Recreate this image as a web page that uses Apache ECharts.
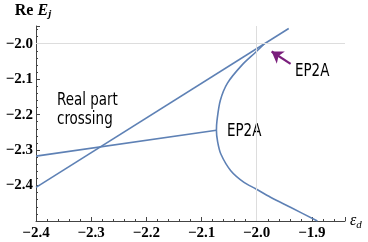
<!DOCTYPE html>
<html><head><meta charset="utf-8">
<script src="https://cdn.jsdelivr.net/npm/echarts@6/dist/echarts.min.js"></script>
<style>html,body{margin:0;padding:0;background:#fff}#c{width:368px;height:242px}</style>
</head><body><div id="c"></div>
<script>
// Data
const crossingLineX = [-2.4, -1.942];
const crossingLineY = [-2.405, -1.957];
const flatLineX = [-2.4, -2.073];
const flatLineY = [-2.317, -2.244];
const curveX = [-1.986, -2.002, -2.026, -2.053, -2.066, -2.072, -2.073, -2.071, -2.065, -2.047, -2.023, -2.002, -1.975, -1.938, -1.890];
const curveY = [-2.000, -2.024, -2.059, -2.111, -2.160, -2.217, -2.244, -2.275, -2.311, -2.358, -2.391, -2.409, -2.433, -2.462, -2.500];
const gridX = [-2.0];
const gridY = [-2.0];
const arrowFrom = [-1.9386, -2.057];
const arrowTo = [-1.973, -2.022];

const pairs = (xs, ys) => xs.map((x, i) => [x, ys[i]]);
const fmt = v => (v < 0 ? '\u2212' : '') + Math.abs(v).toFixed(1);
const blue = '#5E81B5';
const axisColor = '#444';
const tickFont = { color: '#000', fontFamily: "'Liberation Serif', serif", fontWeight: 'bold', fontSize: 15 };
const noteFont = "'Liberation Sans Narrow', 'DejaVu Sans Condensed', Roboto, sans-serif";

const chart = echarts.init(document.getElementById('c'), null, { renderer: 'canvas' });
chart.setOption({
  animation: false,
  backgroundColor: '#fff',
  grid: { left: 36, right: 23, top: 26, bottom: 21, containLabel: false },
  xAxis: {
    type: 'value', min: -2.4, max: -1.84, interval: 0.1,
    name: '{e|\u03b5}{s|d}', nameLocation: 'end', nameGap: 5,
    nameTextStyle: { rich: {
      e: { fontFamily: "'Liberation Serif', serif", fontStyle: 'italic', fontSize: 16, color: '#000' },
      s: { fontFamily: "'Liberation Serif', serif", fontStyle: 'italic', fontSize: 11, color: '#000', padding: [8, 0, 0, 0] }
    } },
    axisLine: { show: true, onZero: false, lineStyle: { color: axisColor, width: 1 } },
    axisTick: { show: true, inside: true, length: 4, lineStyle: { color: axisColor } },
    minorTick: { show: true, splitNumber: 5, length: 2, lineStyle: { color: axisColor } },
    splitLine: { show: false },
    axisLabel: Object.assign({ margin: 5, showMaxLabel: false, formatter: fmt }, tickFont)
  },
  yAxis: {
    type: 'value', min: -2.5, max: -1.95, interval: 0.1,
    name: '{b|Re }{i|E}{s|j}', nameLocation: 'end', nameGap: 6,
    nameTextStyle: { align: 'center', padding: [0, 6, 0, 0], rich: {
      b: { fontFamily: "'Liberation Serif', serif", fontWeight: 'bold', fontSize: 16, color: '#000' },
      i: { fontFamily: "'Liberation Serif', serif", fontWeight: 'bold', fontStyle: 'italic', fontSize: 16, color: '#000' },
      s: { fontFamily: "'Liberation Serif', serif", fontWeight: 'bold', fontStyle: 'italic', fontSize: 11, color: '#000', padding: [8, 0, 0, 0] }
    } },
    axisLine: { show: true, onZero: false, lineStyle: { color: axisColor, width: 1 } },
    axisTick: { show: true, inside: true, length: 4, lineStyle: { color: axisColor } },
    minorTick: { show: true, splitNumber: 5, length: 2, lineStyle: { color: axisColor } },
    splitLine: { show: false },
    axisLabel: Object.assign({ margin: 3, showMinLabel: false, showMaxLabel: false, formatter: fmt }, tickFont)
  },
  series: [
    {
      type: 'line', data: [], z: 1, silent: true,
      markLine: {
        silent: true, symbol: 'none', animation: false,
        label: { show: false },
        lineStyle: { color: '#dddddd', width: 1, type: 'solid' },
        data: gridX.map(v => ({ xAxis: v })).concat(gridY.map(v => ({ yAxis: v })))
      }
    },
    { type: 'line', data: pairs(crossingLineX, crossingLineY), showSymbol: false, z: 3, lineStyle: { color: blue, width: 1.6 } },
    { type: 'line', data: pairs(flatLineX, flatLineY), showSymbol: false, z: 3, lineStyle: { color: blue, width: 1.6 } },
    { type: 'line', data: pairs(curveX, curveY), showSymbol: false, smooth: 0.3, z: 3, lineStyle: { color: blue, width: 1.6 } },
    {
      type: 'line', data: [], z: 4, silent: true,
      markLine: {
        silent: true, animation: false, symbol: ['none', 'arrow'], symbolSize: 11,
        label: { show: false },
        lineStyle: { color: '#7a1f7c', width: 2.2, type: 'solid' },
        data: [[{ coord: arrowFrom }, { coord: arrowTo }]]
      }
    }
  ],
  graphic: [
    { type: 'text', x: 57, y: 92, scaleX: 0.88, style: { text: 'Real part', font: '17px ' + noteFont, fill: '#000' } },
    { type: 'text', x: 57, y: 111, scaleX: 0.88, style: { text: 'crossing', font: '17px ' + noteFont, fill: '#000' } },
    { type: 'text', x: 295, y: 63, scaleX: 0.88, style: { text: 'EP2A', font: '17px ' + noteFont, fill: '#000' } },
    { type: 'text', x: 227, y: 123, scaleX: 0.88, style: { text: 'EP2A', font: '17px ' + noteFont, fill: '#000' } }
  ]
});
</script></body></html>
